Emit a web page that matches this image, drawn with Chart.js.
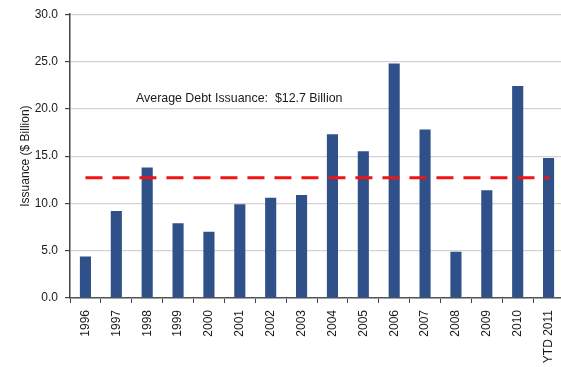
<!DOCTYPE html>
<html>
<head>
<meta charset="utf-8">
<script src="https://cdn.jsdelivr.net/npm/chart.js@4/dist/chart.umd.min.js"></script>
<style>
  body { margin: 0; overflow: hidden; background: #fff; }
  #wrap { width: 566px; height: 367px; }
</style>
</head>
<body>
<div id="wrap"><canvas id="debt" width="566" height="367"></canvas></div>
<script>
// issuance per year, $ billion
const years = ["1996", "1997", "1998", "1999", "2000", "2001", "2002", "2003",
               "2004", "2005", "2006", "2007", "2008", "2009", "2010", "YTD 2011"];
const issuance = [4.4, 9.2, 13.8, 7.9, 7.0, 9.9, 10.6, 10.9,
                  17.3, 15.5, 24.8, 17.8, 4.9, 11.4, 22.4, 14.8];
const avgDebt = 12.7;
const avgLabel = "Average Debt Issuance:  $12.7 Billion";

Chart.defaults.font.family = "'Liberation Sans', Arial, sans-serif";
Chart.defaults.font.size = 12;
Chart.defaults.color = "#1a1a1a";

// dashed average line + its caption
const avgLine = {
  id: "avgLine",
  afterDatasetsDraw(chart) {
    const ctx = chart.ctx;
    const x = chart.scales.x, y = chart.scales.y;
    const yy = y.getPixelForValue(avgDebt);
    ctx.save();
    ctx.strokeStyle = "#f01414";
    ctx.lineWidth = 3;
    ctx.setLineDash([17, 10]);
    ctx.beginPath();
    ctx.moveTo(x.getPixelForValue(0), yy);
    ctx.lineTo(x.getPixelForValue(years.length - 1) + 1, yy);
    ctx.stroke();
    ctx.setLineDash([]);
    ctx.fillStyle = "#1a1a1a";
    ctx.font = "12.4px 'Liberation Sans', Arial, sans-serif";
    ctx.textBaseline = "alphabetic";
    ctx.fillText(avgLabel, chart.chartArea.left + 66, 102);
    ctx.restore();
  }
};

new Chart(document.getElementById("debt"), {
  type: "bar",
  data: {
    labels: years,
    datasets: [{
      label: "Issuance",
      data: issuance,
      backgroundColor: "#30508a",
      barPercentage: 0.36,
      categoryPercentage: 1
    }]
  },
  options: {
    responsive: false,
    animation: false,
    layout: { padding: { top: 8, right: 2 } },
    plugins: {
      legend: { display: false },
      tooltip: { enabled: false }
    },
    scales: {
      x: {
        grid: { drawOnChartArea: false, tickLength: 5, tickColor: "#444", offset: true },
        border: { color: "#555", width: 1.5 },
        ticks: { maxRotation: 90, minRotation: 90, padding: 7, autoSkip: false },
        afterFit: s => { s.height = 69; s.paddingLeft = 0; s.paddingRight = 0; }
      },
      y: {
        min: 0, max: 30,
        grid: { color: "#d2d2d2", tickLength: 5, tickColor: "#444", lineWidth: 1.2 },
        border: { color: "#444", width: 1.5 },
        ticks: { stepSize: 5, padding: 7, callback: v => v.toFixed(1) },
        title: { display: true, text: "Issuance ($ Billion)", padding: { top: 18, bottom: 0 } },
        afterFit: s => { s.width = 70; }
      }
    }
  },
  plugins: [avgLine]
});
</script>
</body>
</html>
